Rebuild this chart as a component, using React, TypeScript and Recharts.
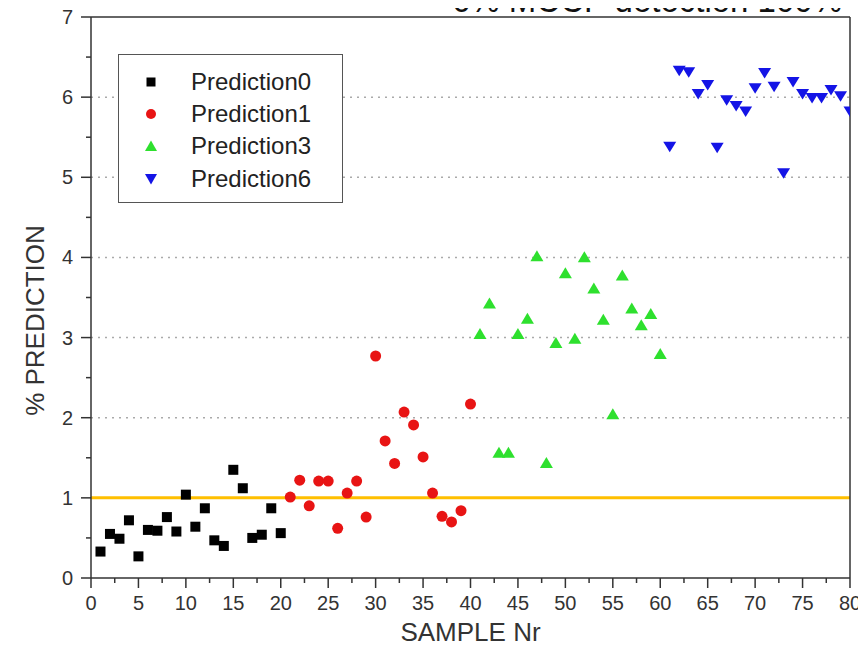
import React from 'react';
import { ScatterChart, Scatter, XAxis, YAxis, CartesianGrid, ReferenceLine, Legend } from 'recharts';

// ---------- data ----------
const pred0Samples = [1, 2, 3, 4, 5, 6, 7, 8, 9, 10, 11, 12, 13, 14, 15, 16, 17, 18, 19, 20];
const pred0Values = [0.33, 0.55, 0.49, 0.72, 0.27, 0.6, 0.59, 0.76, 0.58, 1.04, 0.64, 0.87, 0.47, 0.4, 1.35, 1.12, 0.5, 0.54, 0.87, 0.56];

const pred1Samples = [21, 22, 23, 24, 25, 26, 27, 28, 29, 30, 31, 32, 33, 34, 35, 36, 37, 38, 39, 40];
const pred1Values = [1.01, 1.22, 0.9, 1.21, 1.21, 0.62, 1.06, 1.21, 0.76, 2.77, 1.71, 1.43, 2.07, 1.91, 1.51, 1.06, 0.77, 0.7, 0.84, 2.17];

const pred3Samples = [41, 42, 43, 44, 45, 46, 47, 48, 49, 50, 51, 52, 53, 54, 55, 56, 57, 58, 59, 60];
const pred3Values = [3.05, 3.43, 1.57, 1.57, 3.05, 3.24, 4.02, 1.44, 2.94, 3.81, 2.99, 4.01, 3.62, 3.23, 2.05, 3.78, 3.37, 3.16, 3.3, 2.8];

const pred6Samples = [61, 62, 63, 64, 65, 66, 67, 68, 69, 70, 71, 72, 73, 74, 75, 76, 77, 78, 79, 80];
const pred6Values = [5.38, 6.33, 6.31, 6.04, 6.15, 5.37, 5.96, 5.89, 5.82, 6.11, 6.3, 6.13, 5.05, 6.19, 6.04, 5.99, 5.99, 6.09, 6.01, 5.82];

const seriesNames = ['Prediction0', 'Prediction1', 'Prediction3', 'Prediction6'];
const thresholdValue = 1;

const xTickValues = [0, 2.5, 5, 7.5, 10, 12.5, 15, 17.5, 20, 22.5, 25, 27.5, 30, 32.5, 35, 37.5, 40, 42.5, 45, 47.5, 50, 52.5, 55, 57.5, 60, 62.5, 65, 67.5, 70, 72.5, 75, 77.5, 80];
const yTickValues = [0, 0.5, 1, 1.5, 2, 2.5, 3, 3.5, 4, 4.5, 5, 5.5, 6, 6.5, 7];
const gridValues = [1, 2, 3, 4, 5, 6];

const xTitle = 'SAMPLE Nr';
const yTitle = '% PREDICTION';
const topText = '6% MCCP detection 100%';

// ---------- build tables ----------
const toPoints = (xs: number[], ys: number[]) => xs.map((x, i) => ({ sample: x, value: ys[i] }));
const data0 = toPoints(pred0Samples, pred0Values);
const data1 = toPoints(pred1Samples, pred1Values);
const data3 = toPoints(pred3Samples, pred3Values);
const data6 = toPoints(pred6Samples, pred6Values);

// ---------- styles ----------
const FONT = '"Liberation Sans", Arial, sans-serif';
const AXIS = '#333';
const C0 = '#000000';
const C1 = '#e81414';
const C3 = '#2ee02e';
const C6 = '#1414e6';

const isMajorX = (v: number) => v % 5 === 0;
const isMajorY = (v: number) => v % 1 === 0;

// ---------- shapes ----------
const SquareShape = (p: any) => <rect x={p.cx - 5} y={p.cy - 5} width={10} height={10} fill={C0} />;
const CircleShape = (p: any) => <circle cx={p.cx} cy={p.cy} r={5.5} fill={C1} />;
const TriUpShape = (p: any) => (
  <polygon points={`${p.cx - 6.5},${p.cy + 5.5} ${p.cx + 6.5},${p.cy + 5.5} ${p.cx},${p.cy - 5.5}`} fill={C3} />
);
const TriDownShape = (p: any) => (
  <polygon points={`${p.cx - 6.5},${p.cy - 5} ${p.cx + 6.5},${p.cy - 5} ${p.cx},${p.cy + 5.5}`} fill={C6} />
);

// ---------- ticks ----------
const BottomTick = (p: any) => {
  const v = p.payload.value;
  const major = isMajorX(v);
  return (
    <g>
      <line x1={p.x} x2={p.x} y1={p.y} y2={p.y + (major ? 10 : 5)} stroke={AXIS} strokeWidth={1.5} />
      {major && (
        <text x={p.x} y={p.y + 32} textAnchor="middle" fontSize={20} fill="#333" fontFamily={FONT}>
          {v}
        </text>
      )}
    </g>
  );
};
const TopTick = (p: any) => {
  const major = isMajorX(p.payload.value);
  return <line x1={p.x} x2={p.x} y1={p.y} y2={p.y + (major ? 10 : 5)} stroke={AXIS} strokeWidth={1.5} />;
};
const LeftTick = (p: any) => {
  const v = p.payload.value;
  const major = isMajorY(v);
  return (
    <g>
      <line x1={p.x} x2={p.x - (major ? 10 : 5)} y1={p.y} y2={p.y} stroke={AXIS} strokeWidth={1.5} />
      {major && (
        <text x={p.x - 18} y={p.y + 7} textAnchor="end" fontSize={20} fill="#333" fontFamily={FONT}>
          {v}
        </text>
      )}
    </g>
  );
};
const RightTick = (p: any) => {
  const major = isMajorY(p.payload.value);
  return <line x1={p.x} x2={p.x - (major ? 10 : 5)} y1={p.y} y2={p.y} stroke={AXIS} strokeWidth={1.5} />;
};

const XTitle = (p: any) => {
  const vb = p.viewBox;
  return (
    <text x={vb.x + vb.width / 2} y={vb.y + 63} textAnchor="middle" fontSize={26} fill="#333" fontFamily={FONT}>
      {xTitle}
    </text>
  );
};
const YTitle = (p: any) => {
  const vb = p.viewBox;
  const cx = vb.x + 35;
  const cy = vb.y + vb.height / 2 + 23;
  return (
    <text
      x={cx}
      y={cy}
      transform={`rotate(-90 ${cx} ${cy})`}
      textAnchor="middle"
      dominantBaseline="central"
      fontSize={26}
      fill="#333"
      fontFamily={FONT}
    >
      {yTitle}
    </text>
  );
};

// ---------- legend ----------
const legendIcons = [
  <rect x={-4.5} y={-4.5} width={9} height={9} fill={C0} />,
  <circle cx={0} cy={0} r={5} fill={C1} />,
  <polygon points="-6,5 6,5 0,-5.5" fill={C3} />,
  <polygon points="-6,-5 6,-5 0,5.5" fill={C6} />,
];
const LegendBox = () => (
  <div
    style={{
      position: 'relative',
      width: 223,
      height: 147,
      border: '1.5px solid #555',
      background: '#fff',
      fontFamily: FONT,
      fontSize: 24,
      color: '#222',
    }}
  >
    {seriesNames.map((n, i) => (
      <div
        key={n}
        style={{ position: 'absolute', left: 0, top: 27 + 32.2 * i - 16, height: 32, display: 'flex', alignItems: 'center' }}
      >
        <svg width={72} height={32} style={{ display: 'block' }}>
          <g transform="translate(32,16)">{legendIcons[i]}</g>
        </svg>
        <span style={{ lineHeight: '32px', whiteSpace: 'nowrap' }}>{n}</span>
      </div>
    ))}
  </div>
);

export default function App() {
  return (
    <div style={{ position: 'relative', margin: -8, width: 866, height: 660, background: '#fff', overflow: 'hidden' }}>
      <ScatterChart width={866} height={660} margin={{ top: 0, right: 0, bottom: 0, left: 0 }}>
        <CartesianGrid
          horizontal
          vertical={false}
          horizontalValues={gridValues}
          stroke="#aaa"
          strokeWidth={1.5}
          strokeDasharray="2 5"
        />
        <XAxis
          dataKey="sample"
          type="number"
          domain={[0, 80]}
          allowDataOverflow
          ticks={xTickValues}
          interval={0}
          height={82}
          tickSize={0}
          tickMargin={0}
          tickLine={false}
          tick={BottomTick}
          axisLine={{ stroke: AXIS, strokeWidth: 1.5 }}
          label={{ content: XTitle }}
        />
        <XAxis
          xAxisId="top"
          orientation="top"
          type="number"
          domain={[0, 80]}
          ticks={xTickValues}
          interval={0}
          height={17}
          tickSize={0}
          tickMargin={0}
          tickLine={false}
          tick={TopTick}
          axisLine={{ stroke: AXIS, strokeWidth: 1.5 }}
        />
        <YAxis
          dataKey="value"
          type="number"
          domain={[0, 7]}
          allowDataOverflow
          ticks={yTickValues}
          interval={0}
          width={91}
          tickSize={0}
          tickMargin={0}
          tickLine={false}
          tick={LeftTick}
          axisLine={{ stroke: AXIS, strokeWidth: 1.5 }}
          label={{ content: YTitle }}
        />
        <YAxis
          yAxisId="right"
          orientation="right"
          type="number"
          domain={[0, 7]}
          ticks={yTickValues}
          interval={0}
          width={16}
          tickSize={0}
          tickMargin={0}
          tickLine={false}
          tick={RightTick}
          axisLine={{ stroke: AXIS, strokeWidth: 1.5 }}
        />
        <ReferenceLine y={thresholdValue} stroke="#ffbf00" strokeWidth={3} />
        <Legend
          layout="vertical"
          align="center"
          verticalAlign="middle"
          content={LegendBox}
          wrapperStyle={{ position: 'absolute', left: 118, top: 54, width: 'auto', height: 'auto' }}
        />
        <Scatter name={seriesNames[0]} data={data0} fill={C0} shape={SquareShape} isAnimationActive={false} />
        <Scatter name={seriesNames[1]} data={data1} fill={C1} shape={CircleShape} isAnimationActive={false} />
        <Scatter name={seriesNames[2]} data={data3} fill={C3} shape={TriUpShape} isAnimationActive={false} />
        <Scatter name={seriesNames[3]} data={data6} fill={C6} shape={TriDownShape} isAnimationActive={false} />
      </ScatterChart>
      <div style={{ position: 'absolute', left: 0, top: 0, width: 866, height: 30, pointerEvents: 'none' }}>
        <svg width={866} height={30} style={{ display: 'block' }}>
          <rect x={388} y={0} width={10} height={4} fill="#3333ff" />
          <text
            x={452}
            y={12}
            fontSize={35}
            textLength={390}
            lengthAdjust="spacingAndGlyphs"
            fill="#111"
            fontFamily={FONT}
          >
            {topText}
          </text>
        </svg>
      </div>
    </div>
  );
}
